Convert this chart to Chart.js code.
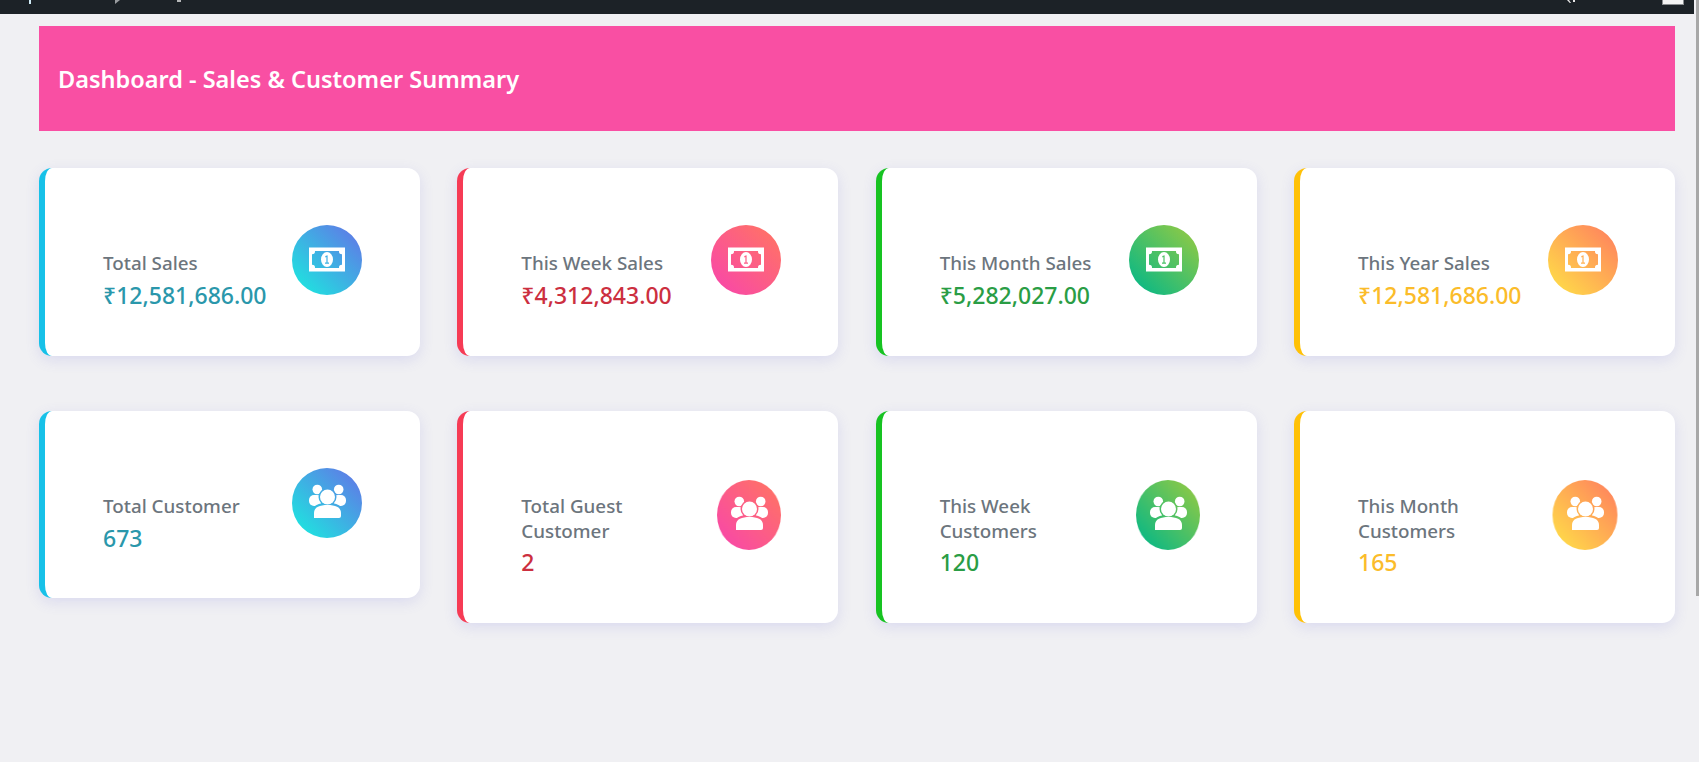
<!DOCTYPE html>
<html>
<head>
<meta charset="utf-8">
<title>Dashboard</title>
<script src="https://cdn.jsdelivr.net/npm/chart.js@4"></script>
<style>
  html, body { margin: 0; height: 100%; overflow: hidden; }
  body { background: #f0f0f3; font-family: "Noto Sans", "Open Sans", sans-serif; position: relative; }
  #topbar { position: relative; width: 1694px; height: 14px; background: #1c2227; overflow: hidden; }
  #topbar i { position: absolute; top: 0; display: block; }
  #scrollbar { position: absolute; right: 0; top: 0; width: 3px; height: 596px; background: #a8a8a8; }
  #banner { position: absolute; left: 39px; top: 26px; width: 1636px; height: 105px; background: #f94fa3;
            color: #fff; font-size: 23.5px; font-weight: 600; line-height: 107px; text-indent: 19px; }
  .row { position: absolute; left: 39px; width: 1636px; display: flex; justify-content: space-between; align-items: flex-start; }
  #row1 { top: 168px; }
  #row2 { top: 411px; }
  .card { position: relative; box-sizing: border-box; width: 381px; height: 188px; background: #fff; border-radius: 13px;
          border-left: 6px solid; box-shadow: 0 4px 14px rgba(105,105,220,.16); }
  .card.tall { height: 212px; }
  .card.short { height: 187px; }
  .txt { position: absolute; left: 58px; top: 83px; width: 175px; }
  .lbl { font-size: 18.8px; line-height: 24.5px; color: #6c757d; font-weight: 500; }
  .val { font-size: 23px; line-height: 34px; font-weight: 500; margin-top: 2px; white-space: nowrap; }
  .ico { position: absolute; top: 57px; width: 70px; height: 70px; }
  .card.tall .ico { top: 69px; }
  .ico canvas { display: block; }
  .ico svg { position: absolute; left: 15px; top: 15px; width: 40px; height: 40px; }
</style>
</head>
<body>
<div id="topbar">
  <i style="left:29px;width:2px;height:4px;background:#cfeaf5"></i>
  <i style="left:115px;width:5px;height:4px;background:#9a9da0;clip-path:polygon(0 0,100% 0,0 100%)"></i>
  <i style="left:177px;width:4px;height:2px;background:#b5b7b8"></i>
  <i style="left:1567px;width:8px;height:3px;background:#e6e6e6;clip-path:polygon(0 0,25% 0,50% 100%,35% 100%)"></i>
  <i style="left:1573px;width:2px;height:2px;background:#e6e6e6"></i>
  <i style="left:1662px;width:20px;height:4px;background:#f4f4f4;border:1px solid #8a8d90;border-top:0"></i>
</div>
<div id="scrollbar"></div>
<div id="banner">Dashboard - Sales &amp; Customer Summary</div>
<div class="row" id="row1"></div>
<div class="row" id="row2"></div>

<svg width="0" height="0" style="position:absolute">
  <defs>
    <mask id="ringCut">
      <rect x="0" y="0" width="40" height="40" fill="#fff"/>
      <circle cx="20.5" cy="14" r="9" fill="#000"/>
      <path d="M5 37 V30 C5 22 12 20 20.5 20 C29 20 36 22 36 30 V37 Z" fill="#000"/>
    </mask>
  </defs>
</svg>

<script>
// Sales row
const salesLabels = ["Total Sales", "This Week Sales", "This Month Sales", "This Year Sales"];
const salesValues = [12581686, 4312843, 5282027, 12581686];

// Customer row
const customerLabels = ["Total Customer", "Total Guest Customer", "This Week Customers", "This Month Customers"];
const customerValues = [673, 2, 120, 165];

// Card colours, same order in both rows
const borderColors = ["#17c1e8", "#f63b55", "#17c322", "#ffc107"];
const valueColors = ["#2a97ab", "#cc2f3f", "#2a9d45", "#fbbc2a"];
const gradientFrom = ["#22dde0", "#f94ba3", "#12b981", "#ffd54a"];
const gradientTo = ["#5b82e6", "#ff6f6a", "#85c84a", "#ff8a5c"];

const moneyIcon = '<svg viewBox="0 0 40 40"><path fill="#fff" fill-rule="evenodd" d="M2 7.5H38V31.5H2Z M8 11H32A3 3 0 0 0 35 14.2V24.8A3 3 0 0 0 32 28H8A3 3 0 0 0 5 24.8V14.2A3 3 0 0 0 8 11Z M14 19.5a6 7.5 0 1 0 12 0a6 7.5 0 1 0 -12 0Z M18.3 16L20.6 15.3V22.5H22V23.7H18V22.5H19.4V17.1L18.3 17.5Z"/></svg>';
const peopleIcon = '<svg viewBox="0 0 40 40"><g fill="#fff" mask="url(#ringCut)"><circle cx="10.3" cy="6.5" r="4.8"/><circle cx="31.7" cy="6.5" r="4.8"/><rect x="2" y="12" width="13" height="11" rx="5"/><rect x="26" y="12" width="13" height="11" rx="5"/></g><g fill="#fff"><circle cx="20.5" cy="14" r="7.5"/><path d="M7 35 Q7 35 7 33 V30 C7 24 13 22 20.5 22 C28 22 34 24 34 30 V33 Q34 35 32 35 Z"/></g></svg>';

function addCard(row, label, value, shown, i, cls, iconRight, iconWidth, icon) {
  const card = document.createElement("div");
  card.className = "card " + cls;
  card.style.borderLeftColor = borderColors[i];
  card.innerHTML = '<div class="txt"><div class="lbl">' + label + '</div><div class="val" style="color:' + valueColors[i] + '">' + shown + '</div></div>' +
    '<div class="ico" style="right:' + iconRight + 'px"><canvas width="70" height="70"></canvas>' + icon + '</div>';
  document.getElementById(row).appendChild(card);

  const wrap = card.querySelector(".ico");
  const canvas = wrap.querySelector("canvas");
  // some of the circles are squeezed a bit in the reference
  canvas.style.transform = "scaleX(" + iconWidth / 70 + ")";
  const ctx = canvas.getContext("2d");
  const grad = ctx.createLinearGradient(10, 60, 60, 10);
  grad.addColorStop(0, gradientFrom[i]);
  grad.addColorStop(1, gradientTo[i]);
  new Chart(ctx, {
    type: "pie",
    data: {
      labels: [label],
      datasets: [{ data: [value], backgroundColor: grad, borderWidth: 0 }]
    },
    options: {
      responsive: false,
      animation: false,
      devicePixelRatio: 1,
      layout: { padding: 0 },
      plugins: { legend: { display: false }, tooltip: { enabled: false } }
    }
  });
}

function money(v) {
  return "₹" + v.toLocaleString("en-US", { minimumFractionDigits: 2 });
}

const salesRight = [58, 57, 58, 57];
salesLabels.forEach(function (label, i) {
  addCard("row1", label, salesValues[i], money(salesValues[i]), i, "", salesRight[i], 70, moneyIcon);
});

const custRight = [58, 54, 54, 55];
const custWidth = [70, 64, 64, 65];
customerLabels.forEach(function (label, i) {
  const cls = i === 0 ? "short" : "tall";
  addCard("row2", label, customerValues[i], String(customerValues[i]), i, cls, custRight[i], custWidth[i], peopleIcon);
});
</script>
</body>
</html>
